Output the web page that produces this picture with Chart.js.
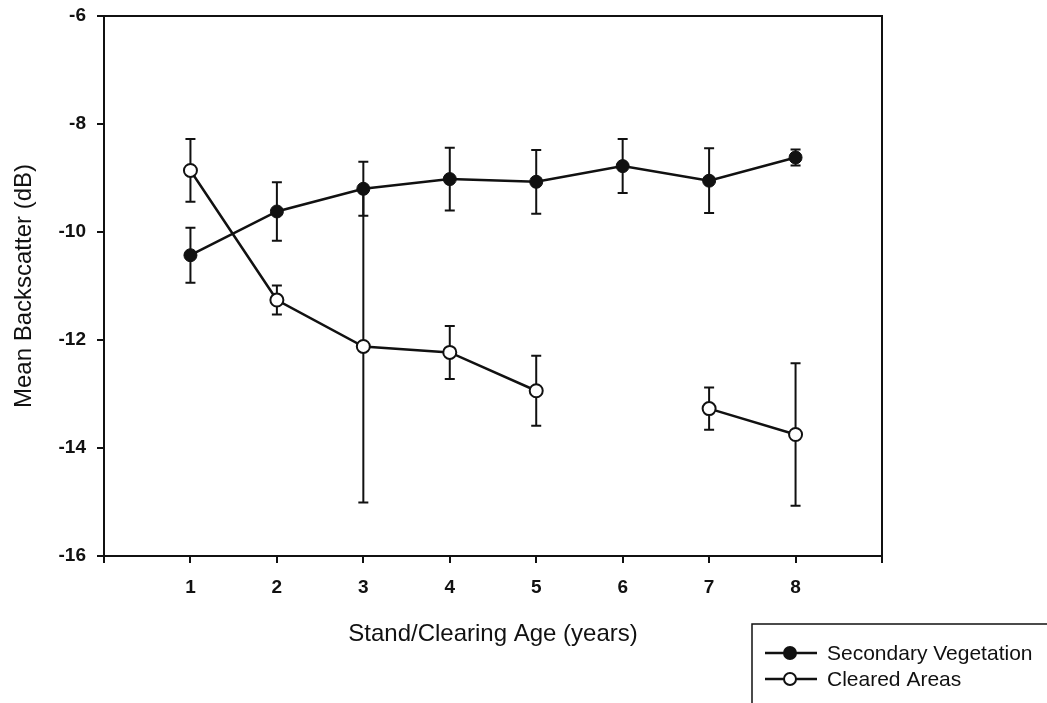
<!DOCTYPE html>
<html>
<head>
<meta charset="utf-8">
<script src="https://cdn.jsdelivr.net/npm/chart.js@4"></script>
<style>
  html, body { margin:0; padding:0; background:#fff; }
  #wrap { width:1047px; height:703px; position:relative; }
</style>
</head>
<body>
<div id="wrap"><canvas id="c"></canvas></div>
<script>
/* ── data ── */
const ages        = [1, 2, 3, 4, 5, 6, 7, 8];
const secMean     = [-10.43, -9.62, -9.20, -9.02, -9.07, -8.78, -9.05, -8.62];
const secErr      = [0.51, 0.54, 0.50, 0.58, 0.59, 0.50, 0.60, 0.15];
const clearMean   = [-8.86, -11.26, -12.12, -12.23, -12.94, null, -13.27, -13.75];
const clearErr    = [0.58, 0.27, 2.89, 0.49, 0.65, null, 0.39, 1.32];
const yTicks      = [-16, -14, -12, -10, -8, -6];
const seriesNames = ['Secondary Vegetation', 'Cleared Areas'];

const FONT = '"Liberation Sans", Arial, Helvetica, sans-serif';
const INK  = '#111';

const toPts = arr => ages.map((x, i) => ({ x, y: arr[i] }));

/* error bars, drawn under the markers */
const errorBars = {
  id: 'errorBars',
  beforeDatasetsDraw(chart) {
    const { ctx, scales: { x, y } } = chart;
    const sets = [[secMean, secErr], [clearMean, clearErr]];
    ctx.save();
    ctx.strokeStyle = INK;
    ctx.lineWidth = 2;
    sets.forEach(([m, e]) => {
      ages.forEach((a, i) => {
        if (m[i] == null || e[i] == null) return;
        const px = x.getPixelForValue(a);
        const top = y.getPixelForValue(m[i] + e[i]);
        const bot = y.getPixelForValue(m[i] - e[i]);
        ctx.beginPath();
        ctx.moveTo(px, top); ctx.lineTo(px, bot);
        ctx.moveTo(px - 5, top); ctx.lineTo(px + 5, top);
        ctx.moveTo(px - 5, bot); ctx.lineTo(px + 5, bot);
        ctx.stroke();
      });
    });
    ctx.restore();
  }
};

/* plot frame + boxed legend at bottom right */
const frameLegend = {
  id: 'frameLegend',
  afterDraw(chart) {
    const { ctx, chartArea: a } = chart;
    ctx.save();
    ctx.strokeStyle = INK;
    ctx.lineWidth = 2;
    ctx.beginPath();
    ctx.moveTo(a.left, a.top); ctx.lineTo(a.right, a.top); ctx.lineTo(a.right, a.bottom);
    ctx.stroke();

    // legend box (runs off the page on the right and bottom, as in the scan)
    ctx.lineWidth = 1.5;
    ctx.strokeRect(752, 624, 400, 200);

    ctx.font = '21px ' + FONT;
    ctx.textBaseline = 'middle';
    ctx.fillStyle = INK;
    chart.data.datasets.forEach((ds, i) => {
      const yy = 653 + i * 26;
      ctx.lineWidth = 2.5;
      ctx.beginPath(); ctx.moveTo(765, yy); ctx.lineTo(817, yy); ctx.stroke();
      ctx.beginPath(); ctx.arc(790, yy, 6, 0, Math.PI * 2);
      ctx.fillStyle = ds.pointBackgroundColor; ctx.fill();
      ctx.lineWidth = 2; ctx.stroke();
      ctx.fillStyle = INK;
      ctx.fillText(ds.label, 827, yy + 1);
    });
    ctx.restore();
  }
};

new Chart(document.getElementById('c'), {
  type: 'line',
  data: {
    datasets: [
      {
        label: seriesNames[0], data: toPts(secMean),
        borderColor: INK, borderWidth: 2.5,
        pointRadius: 6.5, pointBackgroundColor: INK, pointBorderColor: INK, pointBorderWidth: 1,
        tension: 0, spanGaps: false,
      },
      {
        label: seriesNames[1], data: toPts(clearMean),
        borderColor: INK, borderWidth: 2.5,
        pointRadius: 6.5, pointBackgroundColor: '#fff', pointBorderColor: INK, pointBorderWidth: 2,
        tension: 0, spanGaps: false,
      },
    ],
  },
  options: {
    responsive: true, maintainAspectRatio: false,
    animation: false,
    layout: { padding: { top: 16, right: 165, left: 0, bottom: 0 } },
    plugins: { legend: { display: false }, tooltip: { enabled: false } },
    scales: {
      x: {
        type: 'linear', min: 0, max: 9,
        afterFit: s => { s.height = 147; },
        border: { display: true, color: INK, width: 2 },
        grid: { drawOnChartArea: false, drawTicks: true, tickLength: 7, color: INK, lineWidth: 2 },
        ticks: {
          stepSize: 1, padding: 13, color: INK,
          font: { family: FONT, size: 19, weight: 'bold' },
          callback: v => (v >= 1 && v <= ages.length ? v : ''),
        },
        title: {
          display: true, text: 'Stand/Clearing Age (years)', color: INK,
          font: { family: FONT, size: 24 }, padding: { top: 0, bottom: 54 },
        },
      },
      y: {
        min: yTicks[0], max: yTicks[yTicks.length - 1],
        afterFit: s => { s.width = 104; s.paddingTop = 0; s.paddingBottom = 0; },
        afterBuildTicks: s => { s.ticks = yTicks.map(v => ({ value: v })); },
        border: { display: true, color: INK, width: 2 },
        grid: { drawOnChartArea: false, drawTicks: true, tickLength: 7, color: INK, lineWidth: 2 },
        ticks: {
          padding: 11, color: INK,
          font: { family: FONT, size: 19, weight: 'bold' },
        },
        title: {
          display: true, text: 'Mean Backscatter (dB)', color: INK,
          font: { family: FONT, size: 24 }, padding: { top: 10, bottom: 0 },
        },
      },
    },
  },
  plugins: [errorBars, frameLegend],
});
</script>
</body>
</html>
